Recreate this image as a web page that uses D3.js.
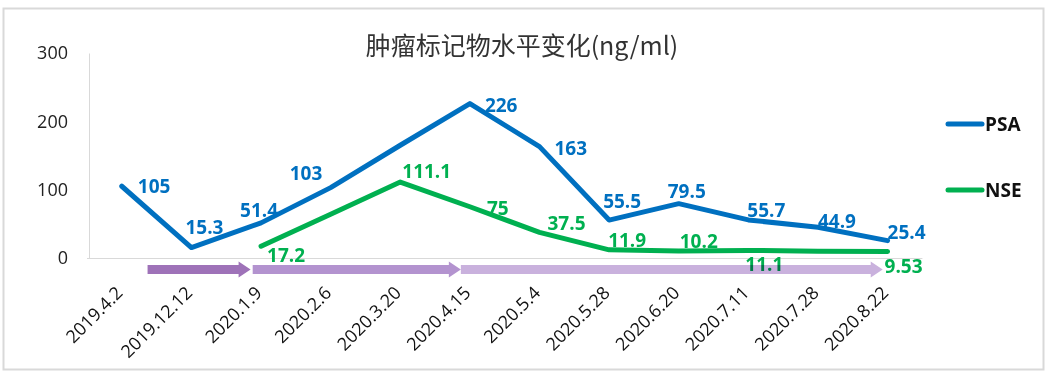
<!DOCTYPE html>
<html>
<head>
<meta charset="utf-8">
<script src="https://cdn.jsdelivr.net/npm/d3@7"></script>
<style>
  body { margin: 0; background: #fff; }
  svg { display: block; }
</style>
</head>
<body>
<div id="chart"></div>
<script>
// dates de prélèvement
const dates = ["2019.4.2", "2019.12.12", "2020.1.9", "2020.2.6", "2020.3.20", "2020.4.15",
  "2020.5.4", "2020.5.28", "2020.6.20", "2020.7.11", "2020.7.28", "2020.8.22"];
const psa = [105, 15.3, 51.4, 103, 165, 226, 163, 55.5, 79.5, 55.7, 44.9, 25.4];
const nse = [null, null, 17.2, 64, 111.1, 75, 37.5, 11.9, 10.2, 11.1, 10, 9.53];
// étiquettes affichées (null = pas d'étiquette)
const psaLabels = ["105", "15.3", "51.4", "103", null, "226", "163", "55.5", "79.5", "55.7", "44.9", "25.4"];
const nseLabels = [null, null, "17.2", null, "111.1", "75", "37.5", "11.9", "10.2", "11.1", null, "9.53"];
const yTicks = [0, 100, 200, 300];
// phases de traitement (positions en index de catégorie)
const phaseStart = [0.37, 1.88, 4.87];
const phaseEnd = [1.85, 4.87, 10.93];

const width = 1048, height = 378;
const blue = "#0070c0", green = "#00b050";
const phaseColors = ["#9e72b8", "#b393cf", "#c9b1dd"];
const font = "'Open Sans', 'Noto Sans', sans-serif";

// décalage des étiquettes [dx, dy] par rapport au point (placement manuel comme dans Excel)
const psaOffset = [[16, 7], [-6, -14], [-21, -6], [-41, -8], null, [15, 8], [15, 8],
  [-6, -12], [-11, -6], [-1, -3], [0, 1], [0, -2]];
const nseOffset = [null, null, [6, 16], null, [2, -4], [17, 8], [8, -2],
  [-1, -3], [1, -3], [-3, 21], null, [-3, 22]];

const svg = d3.select("#chart").append("svg")
  .attr("width", width).attr("height", height);

svg.append("rect")
  .attr("x", 3.5).attr("y", 8.5).attr("width", 1040).attr("height", 361)
  .attr("fill", "#fff").attr("stroke", "#d9d9d9").attr("stroke-width", 2);

svg.append("text")
  .attr("x", 522).attr("y", 55)
  .attr("text-anchor", "middle")
  .style("font-family", "'Noto Sans CJK SC', 'Noto Sans', sans-serif")
  .style("font-size", "25px")
  .attr("fill", "#333")
  .text("肿瘤标记物水平变化(ng/ml)");

const x = d3.scaleBand().domain(dates).range([87, 922.4]);
const xc = i => x.range()[0] + x.bandwidth() * (i + 0.5);
const y = d3.scaleLinear().domain([0, 300]).range([258, 53]);

// axe Y
const yAxis = svg.append("g")
  .attr("transform", "translate(89,0)")
  .call(d3.axisLeft(y).tickValues(yTicks).tickSize(0).tickPadding(21));
yAxis.select(".domain").attr("stroke", "#d9d9d9");
yAxis.selectAll("text")
  .style("font-family", font)
  .style("font-size", "18px")
  .attr("fill", "#222");

// axe X
const xAxis = svg.append("g")
  .attr("transform", "translate(0,258)")
  .call(d3.axisBottom(x).tickSize(0).tickFormat(""));
xAxis.select(".domain").attr("stroke", "#d9d9d9").attr("d", "M87,0.5H922.4");

svg.append("g").selectAll("text")
  .data(dates)
  .join("text")
  .attr("transform", (d, i) => `translate(${xc(i) + 2},${294}) rotate(-45)`)
  .attr("text-anchor", "end")
  .style("font-family", font)
  .style("font-size", "18px")
  .attr("fill", "#111")
  .text(d => d);

// lignes
const line = d3.line()
  .defined(d => d != null)
  .x((d, i) => xc(i))
  .y(d => y(d));

[[psa, blue], [nse, green]].forEach(([vals, col]) => {
  svg.append("path")
    .datum(vals)
    .attr("fill", "none")
    .attr("stroke", col)
    .attr("stroke-width", 5)
    .attr("stroke-linejoin", "round")
    .attr("stroke-linecap", "round")
    .attr("d", line);
});

// étiquettes de données
function labels(vals, texts, offs, col) {
  svg.append("g").selectAll("text")
    .data(vals.map((v, i) => ({ v, i, t: texts[i], o: offs[i] })).filter(d => d.t))
    .join("text")
    .attr("x", d => xc(d.i) + d.o[0])
    .attr("y", d => y(d.v) + d.o[1])
    .style("font-family", font)
    .style("font-size", "19px")
    .style("font-weight", "bold")
    .attr("fill", col)
    .text(d => d.t);
}
labels(psa, psaLabels, psaOffset, blue);
labels(nse, nseLabels, nseOffset, green);

// flèches des phases
const bandStep = x.bandwidth();
const posX = v => xc(0) + v * bandStep;
svg.append("g").selectAll("path")
  .data(phaseStart.map((s, i) => ({ s, e: phaseEnd[i], c: phaseColors[i] })))
  .join("path")
  .style("mix-blend-mode", "multiply")
  .attr("fill", d => d.c)
  .attr("d", d => {
    const x0 = posX(d.s), x1 = posX(d.e), cy = 269.5;
    const hx = x1 - 12;
    return `M${x0},${cy - 4.5}H${hx}V${cy - 8}L${x1},${cy}L${hx},${cy + 8}V${cy + 4.5}H${x0}Z`;
  });

// légende
const legend = svg.append("g");
[["PSA", blue, 124], ["NSE", green, 190]].forEach(([name, col, ly]) => {
  legend.append("line")
    .attr("x1", 948).attr("x2", 982).attr("y1", ly).attr("y2", ly)
    .attr("stroke", col).attr("stroke-width", 5).attr("stroke-linecap", "round");
  legend.append("text")
    .attr("x", 985).attr("y", ly + 7)
    .style("font-family", font)
    .style("font-size", "19px")
    .style("font-weight", "bold")
    .attr("fill", "#111")
    .text(name);
});
</script>
</body>
</html>
